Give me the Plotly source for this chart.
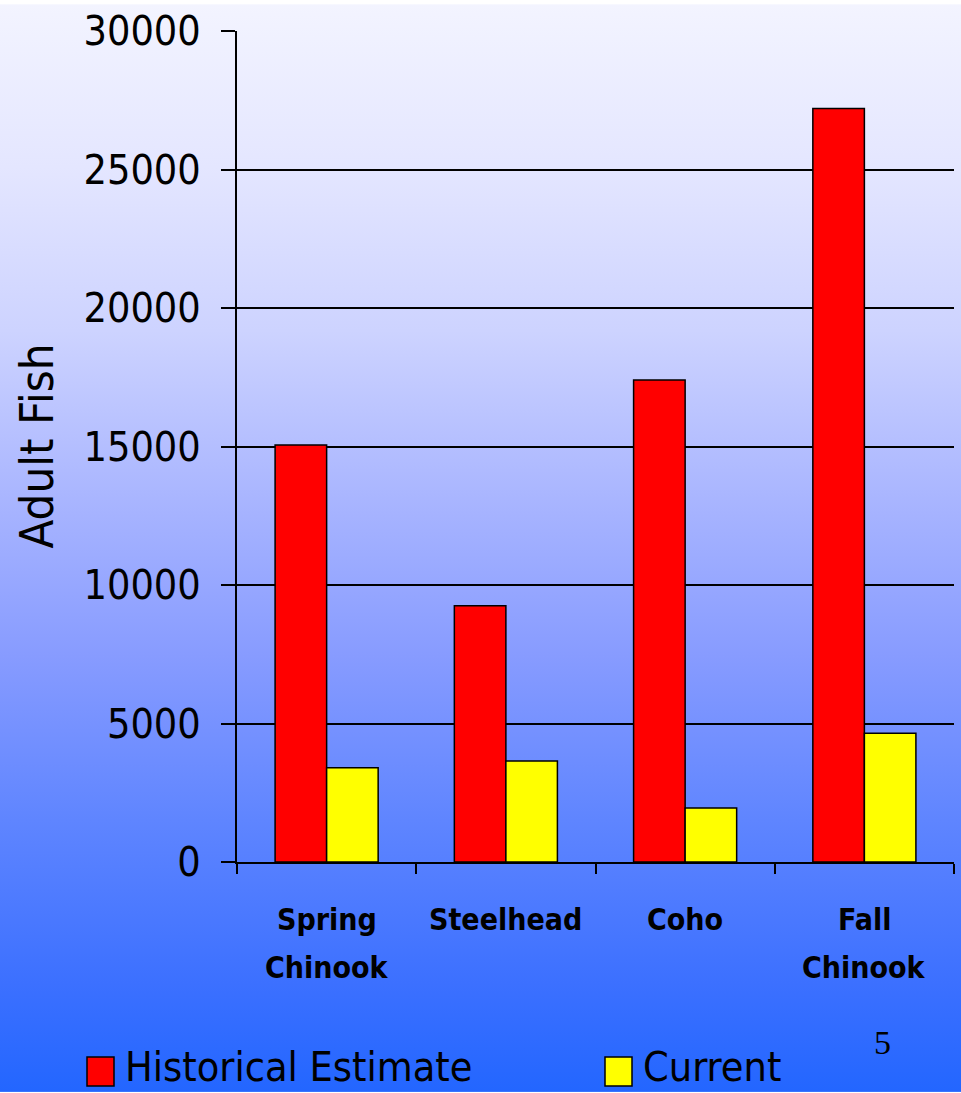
import base64
import plotly.graph_objects as go

categories = ["Spring Chinook", "Steelhead", "Coho", "Fall Chinook"]
label_line1 = ["Spring", "Steelhead", "Coho", "Fall"]
label_line2 = ["Chinook", "", "", "Chinook"]
series_names = ["Historical Estimate", "Current"]
historical = [15050, 9250, 17400, 27200]
current = [3400, 3650, 1950, 4650]
y_ticks = [0, 5000, 10000, 15000, 20000, 25000, 30000]
y_tick_text = ["0", "5000", "10000", "15000", "20000", "25000", "30000"]
slide_number = "5"

W, H = 961, 1093
ML, MR, MT, MB = 237, 7, 27, 231
PW, PH = W - ML - MR, H - MT - MB
FONT = "DejaVu Sans Condensed, Liberation Sans"

def px_x(px):
    return (px - ML) / PW

def px_y(py):
    return (H - MB - py) / PH

# background gradient as svg image
stops = [(0, "#f3f4ff"), (0.15, "#e4e6ff"), (0.3, "#cdd3ff"), (0.45, "#aab6ff"),
         (0.6, "#879bff"), (0.75, "#5f85ff"), (0.9, "#3c70ff"), (1.0, "#2366ff")]
stop_xml = "".join(f'<stop offset="{o}" stop-color="{c}"/>' for o, c in stops)
svg = (f'<svg xmlns="http://www.w3.org/2000/svg" width="{W}" height="{H}" preserveAspectRatio="none">'
       f'<defs><linearGradient id="g" x1="0" y1="0" x2="0" y2="1">{stop_xml}</linearGradient></defs>'
       f'<rect width="{W}" height="{H}" fill="url(#g)"/></svg>')
uri = "data:image/svg+xml;base64," + base64.b64encode(svg.encode()).decode()

fig = go.Figure()
fig.add_trace(go.Bar(x=categories, y=historical, name=series_names[0],
                     marker=dict(color="#ff0000", line=dict(color="black", width=1.5))))
fig.add_trace(go.Bar(x=categories, y=current, name=series_names[1],
                     marker=dict(color="#ffff00", line=dict(color="black", width=1.5))))

cat_font = dict(family=FONT, size=30, color="black", weight="bold")
annotations = []
for c, l1, l2 in zip(categories, label_line1, label_line2):
    for txt, ys in ((l1, -57), (l2, -105)):
        if txt:
            annotations.append(dict(x=c, xref="x", y=0, yref="paper", yshift=ys,
                                    text=txt, showarrow=False, yanchor="middle", font=cat_font))
annotations.append(dict(x=px_x(36), xref="paper", y=0.5, yref="paper", text="Adult Fish",
                        textangle=-90, showarrow=False, xanchor="center", yanchor="middle",
                        font=dict(family=FONT, size=47, color="black")))
annotations.append(dict(x=px_x(882), xref="paper", y=px_y(1043), yref="paper", text=slide_number,
                        showarrow=False, xanchor="center", yanchor="middle",
                        font=dict(family="Liberation Serif", size=34, color="black")))

# legend (drawn manually for large swatches)
leg_colors = ["#ff0000", "#ffff00"]
leg_x = [87, 605]
shapes = []
for name, col, lx in zip(series_names, leg_colors, leg_x):
    shapes.append(dict(type="rect", xref="paper", yref="paper", x0=px_x(lx), x1=px_x(lx + 27),
                       y0=px_y(1087), y1=px_y(1058), fillcolor=col, line=dict(color="black", width=1.5)))
    annotations.append(dict(x=px_x(lx + 36), xref="paper", y=px_y(1068), yref="paper", text=name,
                            showarrow=False, xanchor="left", yanchor="middle",
                            font=dict(family=FONT, size=41, color="black")))

fig.update_layout(
    width=W, height=H,
    margin=dict(l=ML, r=MR, t=MT, b=MB),
    paper_bgcolor="rgba(0,0,0,0)", plot_bgcolor="rgba(0,0,0,0)",
    barmode="group", bargap=0.425, bargroupgap=0,
    showlegend=False,
    images=[dict(source=uri, xref="paper", yref="paper", x=px_x(0), y=px_y(0),
                 sizex=W / PW, sizey=H / PH, sizing="stretch", xanchor="left", yanchor="top",
                 layer="below")],
    annotations=annotations,
    shapes=shapes,
)
fig.update_xaxes(type="category", showticklabels=False, ticks="outside", tickson="boundaries",
                 ticklen=10, tickwidth=2, tickcolor="black", showline=True, linecolor="black",
                 linewidth=2, showgrid=False)
fig.update_yaxes(range=[0, 30000], tickvals=y_ticks, ticktext=y_tick_text, ticks="outside",
                 ticklen=14, tickwidth=2,
                 tickcolor="black", showline=True, linecolor="black", linewidth=2,
                 showgrid=True, gridcolor="black", gridwidth=1.5, zeroline=False,
                 ticklabelstandoff=12,
                 tickfont=dict(family=FONT, size=41, color="black"))

fig.write_html("out.html")
